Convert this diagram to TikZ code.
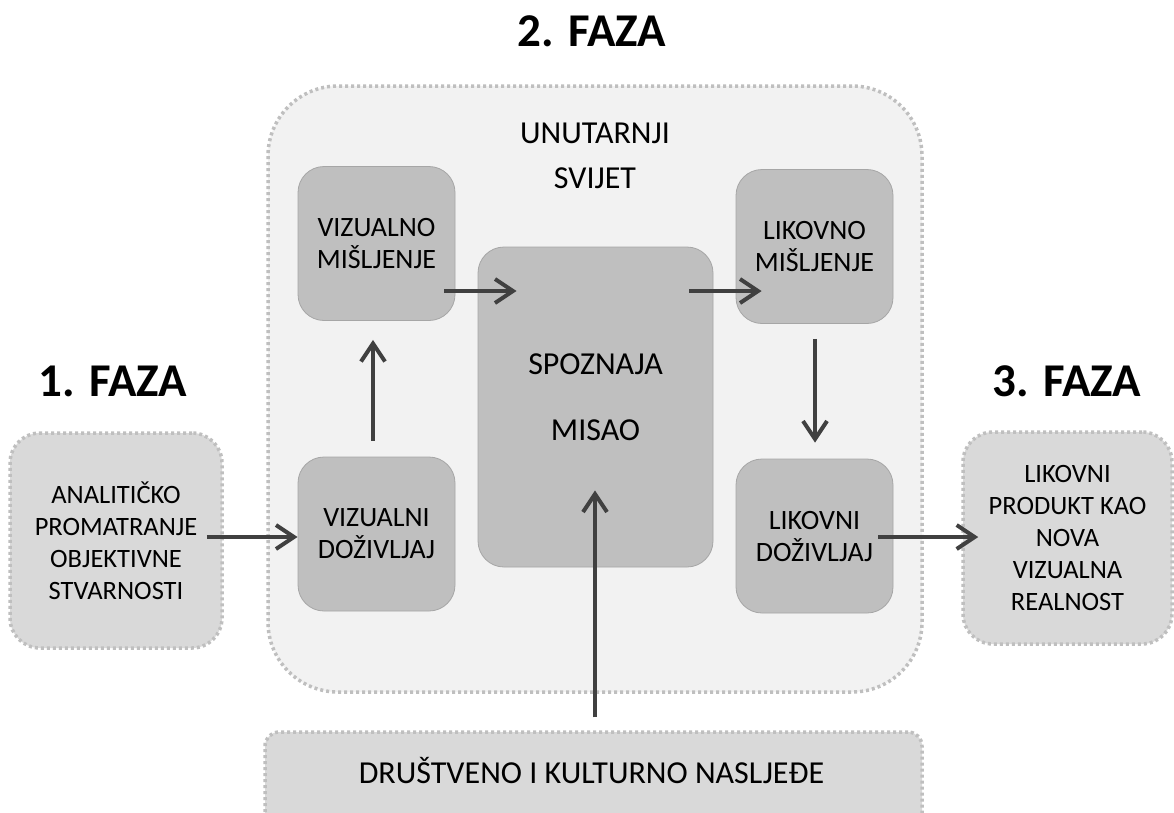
\documentclass[tikz,border=0pt]{standalone}
\usepackage{fontspec}
\setmainfont{Carlito}
\usetikzlibrary{arrows.meta,calc}
\definecolor{outerfill}{HTML}{F2F2F2}
\definecolor{dotgray}{HTML}{BFBFBF}
\definecolor{boxfill}{HTML}{BFBFBF}
\definecolor{boxline}{HTML}{A6A6A6}
\definecolor{sidefill}{HTML}{D9D9D9}
\definecolor{arrcol}{HTML}{404040}
\tikzset{
  dotborder/.style={draw=dotgray, line width=3.5pt, dash pattern=on 3pt off 3pt},
  innerbox/.style={draw=boxline, line width=0.8pt, fill=boxfill, rounded corners=26pt,
     minimum width=157pt, minimum height=154pt, align=center, inner sep=0pt,
     font=\fontsize{28}{32}\selectfont},
  sidebox/.style={dotborder, fill=sidefill, rounded corners=30pt, align=center, inner sep=0pt,
     font=\fontsize{26.5}{32}\selectfont},
  bigtext/.style={align=center, inner sep=0pt, font=\fontsize{32}{45}\selectfont},
  title/.style={anchor=base, font=\fontsize{47}{50}\selectfont\bfseries},
  arr/.style={draw=arrcol, line width=4pt, -{Straight Barb[length=18pt,width=24pt]}},
}
\begin{document}
\begin{tikzpicture}[x=1pt,y=-1pt]
\useasboundingbox (0,0) rectangle (1174,812);
\fill[white] (0,0) rectangle (1174,812);
\clip (0,0) rectangle (1174,812);
% outer container
\node[dotborder, fill=outerfill, rounded corners=70pt, minimum width=654pt, minimum height=606pt, inner sep=0pt] (outer) at (595,389) {};
\node[bigtext, anchor=base] (uv1) at (595,143) {UNUTARNJI};
\node[bigtext, anchor=base] (uv2) at (595,188) {SVIJET};
% inner boxes
\node[innerbox] (vm) at (376.5,243.5) {VIZUALNO\\MIŠLJENJE};
\node[innerbox] (vd) at (376.5,534) {VIZUALNI\\DOŽIVLJAJ};
\node[innerbox, minimum width=235pt, minimum height=320pt] (sp) at (595.5,407) {};
\node[bigtext, anchor=base] (sp1) at (595.5,374) {SPOZNAJA};
\node[bigtext, anchor=base] (sp2) at (595.5,440) {MISAO};
\node[innerbox] (lm) at (814.5,246.5) {LIKOVNO\\MIŠLJENJE};
\node[innerbox] (ld) at (814.5,536) {LIKOVNI\\DOŽIVLJAJ};
% side boxes
\node[sidebox, minimum width=212pt, minimum height=215pt] (ana) at (116,540.5) {ANALITIČKO\\PROMATRANJE\\OBJEKTIVNE\\STVARNOSTI};
\node[sidebox, minimum width=209pt, minimum height=212pt] (prod) at (1067.5,538) {LIKOVNI\\PRODUKT KAO\\NOVA\\VIZUALNA\\REALNOST};
\node[sidebox, rounded corners=14pt, minimum width=657pt, minimum height=96pt] (nas) at (593.5,780) {};
\node[bigtext, anchor=base] (nastxt) at (591.5,783) {DRUŠTVENO I KULTURNO NASLJEĐE};
% titles
\node[title] (f1) at (113,396) {1. FAZA};
\node[title] (f2) at (592,46) {2. FAZA};
\node[title] (f3) at (1067,396) {3. FAZA};
% arrows
\draw[arr] ([xshift=-17pt]ana.east |- 0,537) -- (vd.west |- 0,537);
\draw[arr] ([yshift=16pt]vd.north -| 373,0) -- ([yshift=-19pt]vm.south -| 373,0);
\draw[arr] ([xshift=-11pt]vm.east |- 0,291) -- ([xshift=39pt]sp.west |- 0,291);
\draw[arr] ([xshift=-24pt]sp.east |- 0,291) -- ([xshift=26pt]lm.west |- 0,291);
\draw[arr] ([yshift=-15pt]lm.south -| 815,0) -- ([yshift=16pt]ld.north -| 815,0);
\draw[arr] ([xshift=-15pt]ld.east |- 0,537) -- ([xshift=17pt]prod.west |- 0,537);
\draw[arr] ([yshift=13pt]nas.north -| 595,0) -- ([yshift=77pt]sp.south -| 595,0);
\end{tikzpicture}
\end{document}
